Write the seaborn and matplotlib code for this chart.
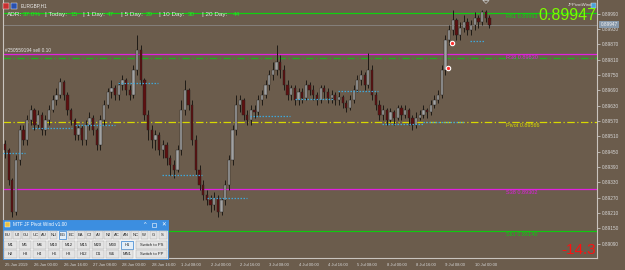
import numpy as np
import pandas as pd
import matplotlib
matplotlib.use("Agg")
import matplotlib.pyplot as plt
from matplotlib.patches import Rectangle
import matplotlib.transforms as mtransforms
import seaborn as sns

# ---------------- data ----------------
symbol = "EURGBP,H1"
first_open = 0.89480
closes = [0.89457, 0.89339, 0.89214, 0.89417, 0.89535, 0.89496, 0.89574, 0.89613, 0.89554, 0.89593,
          0.89535, 0.89574, 0.89613, 0.89652, 0.89672, 0.89722, 0.89672, 0.89613, 0.89574, 0.89515,
          0.89543, 0.89496, 0.89554, 0.89582, 0.89535, 0.89476, 0.89574, 0.89632, 0.89683, 0.89699,
          0.89672, 0.89711, 0.89730, 0.89691, 0.89672, 0.89769, 0.89848, 0.89730, 0.89593, 0.89535,
          0.89496, 0.89515, 0.89457, 0.89476, 0.89425, 0.89398, 0.89378, 0.89457, 0.89613, 0.89691,
          0.89632, 0.89496, 0.89378, 0.89320, 0.89281, 0.89261, 0.89241, 0.89269, 0.89214, 0.89261,
          0.89320, 0.89417, 0.89535, 0.89632, 0.89652, 0.89593, 0.89574, 0.89613, 0.89605, 0.89652,
          0.89672, 0.89711, 0.89750, 0.89769, 0.89801, 0.89769, 0.89711, 0.89672, 0.89699, 0.89652,
          0.89683, 0.89660, 0.89711, 0.89691, 0.89672, 0.89652, 0.89699, 0.89683, 0.89660, 0.89672,
          0.89652, 0.89664, 0.89640, 0.89621, 0.89652, 0.89691, 0.89730, 0.89750, 0.89711, 0.89769,
          0.89672, 0.89632, 0.89593, 0.89613, 0.89574, 0.89605, 0.89582, 0.89621, 0.89593, 0.89613,
          0.89582, 0.89554, 0.89582, 0.89593, 0.89613, 0.89605, 0.89632, 0.89652, 0.89672, 0.89769,
          0.89887, 0.89926, 0.89965, 0.89906, 0.89934, 0.89957, 0.89926, 0.89945, 0.89973, 0.89957,
          0.89996, 0.89973, 0.89947]
highs = [0.89496, 0.89464, 0.89347, 0.89437, 0.89554, 0.89554, 0.89593, 0.89632, 0.89621, 0.89613,
         0.89605, 0.89593, 0.89632, 0.89672, 0.89699, 0.89738, 0.89730, 0.89683, 0.89621, 0.89582,
         0.89554, 0.89554, 0.89574, 0.89605, 0.89593, 0.89543, 0.89593, 0.89652, 0.89699, 0.89730,
         0.89711, 0.89722, 0.89750, 0.89738, 0.89711, 0.89789, 0.89906, 0.89867, 0.89738, 0.89613,
         0.89554, 0.89535, 0.89527, 0.89496, 0.89488, 0.89437, 0.89417, 0.89476, 0.89652, 0.89730,
         0.89699, 0.89652, 0.89515, 0.89398, 0.89339, 0.89300, 0.89281, 0.89292, 0.89281, 0.89269,
         0.89339, 0.89437, 0.89554, 0.89672, 0.89672, 0.89660, 0.89613, 0.89632, 0.89632, 0.89672,
         0.89691, 0.89730, 0.89769, 0.89801, 0.89867, 0.89828, 0.89789, 0.89730, 0.89711, 0.89711,
         0.89699, 0.89699, 0.89730, 0.89722, 0.89711, 0.89683, 0.89711, 0.89711, 0.89699, 0.89691,
         0.89683, 0.89683, 0.89672, 0.89652, 0.89672, 0.89711, 0.89750, 0.89769, 0.89762, 0.89836,
         0.89789, 0.89683, 0.89652, 0.89632, 0.89621, 0.89621, 0.89613, 0.89632, 0.89632, 0.89632,
         0.89621, 0.89593, 0.89605, 0.89613, 0.89632, 0.89621, 0.89652, 0.89672, 0.89691, 0.89789,
         0.89906, 0.89945, 0.90004, 0.89973, 0.89957, 0.89984, 0.89973, 0.89965, 0.89996, 0.89984,
         0.90004, 0.90004, 0.89984]
lows = [0.89425, 0.89320, 0.89195, 0.89202, 0.89398, 0.89476, 0.89476, 0.89554, 0.89535, 0.89543,
        0.89515, 0.89515, 0.89554, 0.89605, 0.89632, 0.89660, 0.89652, 0.89593, 0.89554, 0.89496,
        0.89496, 0.89476, 0.89476, 0.89535, 0.89515, 0.89457, 0.89457, 0.89554, 0.89621, 0.89660,
        0.89652, 0.89652, 0.89691, 0.89672, 0.89652, 0.89660, 0.89750, 0.89711, 0.89574, 0.89496,
        0.89464, 0.89457, 0.89437, 0.89425, 0.89398, 0.89359, 0.89347, 0.89371, 0.89437, 0.89593,
        0.89613, 0.89476, 0.89359, 0.89300, 0.89261, 0.89241, 0.89214, 0.89222, 0.89195, 0.89202,
        0.89241, 0.89300, 0.89398, 0.89515, 0.89605, 0.89574, 0.89554, 0.89554, 0.89582, 0.89593,
        0.89632, 0.89660, 0.89691, 0.89730, 0.89750, 0.89738, 0.89691, 0.89652, 0.89652, 0.89632,
        0.89632, 0.89640, 0.89652, 0.89672, 0.89652, 0.89632, 0.89640, 0.89660, 0.89640, 0.89640,
        0.89632, 0.89632, 0.89621, 0.89605, 0.89613, 0.89640, 0.89683, 0.89711, 0.89691, 0.89699,
        0.89652, 0.89613, 0.89574, 0.89574, 0.89554, 0.89566, 0.89554, 0.89574, 0.89574, 0.89582,
        0.89554, 0.89535, 0.89543, 0.89574, 0.89582, 0.89582, 0.89593, 0.89621, 0.89640, 0.89660,
        0.89750, 0.89867, 0.89906, 0.89887, 0.89887, 0.89918, 0.89906, 0.89906, 0.89926, 0.89934,
        0.89945, 0.89957, 0.89934]

x_labels = ["25 Jun 2019", "26 Jun 00:00", "26 Jun 16:00", "27 Jun 08:00", "28 Jun 00:00",
            "28 Jun 16:00", "1 Jul 08:00", "2 Jul 00:00", "2 Jul 16:00", "3 Jul 08:00",
            "4 Jul 00:00", "4 Jul 16:00", "5 Jul 08:00", "8 Jul 00:00", "8 Jul 16:00",
            "9 Jul 08:00", "10 Jul 00:00"]
bars_per_label = 8

y_ticks = [0.89090, 0.89150, 0.89210, 0.89270, 0.89330, 0.89390, 0.89450, 0.89510,
           0.89570, 0.89630, 0.89690, 0.89750, 0.89810, 0.89870, 0.89930, 0.89990]

level_names = ["R61", "R38", "Pivot", "S38", "S61"]
level_values = [0.89993, 0.89830, 0.89566, 0.89302, 0.89140]
level_colors = ["#10D010", "#E020E0", "#D8D800", "#E020E0", "#10C810"]
level_styles = ["-", "-", (0, (6, 2, 1, 2)), "-", "-"]

order_price = 0.89816
order_text = "#250559194 sell 0.10"
bid_price = 0.89947

seg_start = [-1.4, 7.4, 19.1, 30.8, 42.8, 55.0, 66.8, 79.0, 90.7, 102.7, 113.9, 126.7]
seg_end = [5.4, 18.3, 30.0, 41.7, 53.7, 65.9, 77.7, 89.4, 101.6, 113.9, 125.3, 130.8]
seg_level = [0.89445, 0.89543, 0.89554, 0.89718, 0.89359, 0.89269, 0.89589, 0.89656,
             0.89687, 0.89558, 0.89566, 0.89883]

marker_idx = [121.8, 120.7]
marker_price = [0.89875, 0.89777]

adr_labels = ["ADR:", "| Today:", "| 1 Day:", "| 5 Day:", "| 10 Day:", "| 20 Day:"]
adr_values = ["37.0%", "15", "47", "29", "30", "44"]
daily_change = "-14.3"

row1_buttons = ["EU", "UJ", "GU", "UC", "AU", "NU", "EG", "EC", "EA", "CJ", "AJ", "NJ",
                "AC", "AN", "NC", "W", "G", "S"]
row2_buttons = ["M1", "M5", "M6", "M10", "M12", "M15", "M20", "M30", "H1"]
row3_buttons = ["H2", "H3", "H4", "H6", "H8", "H12", "D1", "W1", "MN1"]

# ---------------- style ----------------
BG = "#6B5C4C"
FG = "#D8D8D8"
sns.set_style("dark", {"axes.facecolor": BG, "figure.facecolor": BG})
plt.rcParams["font.family"] = ["Liberation Sans", "DejaVu Sans"]

fig = plt.figure(figsize=(6.25, 2.70), dpi=100)
fig.patch.set_facecolor(BG)
W, H = 625, 270
ax = fig.add_axes([3 / W, 1 - 258 / H, 594 / W, 258 / H])
ax.set_facecolor(BG)

n = len(closes)
idx = np.arange(n)
opens = [first_open] + closes[:-1]
df = pd.DataFrame({"i": idx, "open": opens, "close": closes, "high": highs, "low": lows})
df["bull"] = df["close"] >= df["open"]

# wicks
ax.vlines(df["i"], df["low"], df["high"], color="#1E1A16", lw=0.7, zorder=3)
# bodies
bottoms = np.minimum(df["open"], df["close"])
heights = np.maximum(np.abs(df["close"] - df["open"]), 0.00002)
colors = np.where(df["bull"], "#A2A2A2", "#5E1010")
ax.bar(df["i"], heights, bottom=bottoms, width=0.62, color=colors,
       edgecolor="#222020", linewidth=0.3, zorder=4)

# pivot levels
for name, val, col, ls in zip(level_names, level_values, level_colors, level_styles):
    ax.axhline(val, color=col, lw=0.9, ls=ls, zorder=2)
    ax.text(136.4, val - 0.00003, f"{name} {val:.5f}", color=col, fontsize=4,
            va="top", ha="left", zorder=6)

# order line
ax.axhline(order_price, color="#20B020", lw=0.9, ls=(0, (6, 2, 1, 2)), zorder=2)
ax.text(0.0, level_values[1] + 0.00004, order_text, color="#E8E8E8", fontsize=3.4,
        va="bottom", ha="left", zorder=6)
# bid line
ax.axhline(bid_price, color="#8F8F8F", lw=0.5, zorder=1)

# dotted segments
seg_df = pd.DataFrame({
    "x": [v for s, e in zip(seg_start, seg_end) for v in (s, e)],
    "y": [v for lv in seg_level for v in (lv, lv)],
    "seg": [k for k in range(len(seg_level)) for _ in (0, 1)],
})
sns.lineplot(data=seg_df, x="x", y="y", units="seg", estimator=None, ax=ax,
             color="#3FA6D8", lw=0.9, ls=(0, (1.2, 1.2)), zorder=5, legend=False)

# order markers
mk_df = pd.DataFrame({"i": marker_idx, "p": marker_price})
sns.scatterplot(data=mk_df, x="i", y="p", ax=ax, s=10, color="#FF3030",
                edgecolor="white", linewidth=0.8, zorder=7, legend=False)

# axes
ax.set_xlim(-0.55, 161.3)
ax.set_ylim(0.89034, 0.90043)
ax.set_xticks(np.arange(0, len(x_labels) * bars_per_label, bars_per_label))
ax.set_xticklabels(x_labels, ha="left")
ax.set_yticks(y_ticks)
ax.set_yticklabels([f"{v:.5f}" for v in y_ticks])
ax.yaxis.tick_right()
ax.tick_params(axis="y", direction="out", length=2.5, width=0.5, pad=0.8,
               labelsize=3.4, colors=FG)
ax.tick_params(axis="x", direction="out", length=2.5, width=0.5, pad=1.0,
               labelsize=3.0, colors=FG)
for lbl in ax.get_xticklabels():
    lbl.set_horizontalalignment("left")
ax.set_xlabel("")
ax.set_ylabel("")
ax.grid(False)
for side in ["right", "bottom", "left"]:
    ax.spines[side].set_visible(True)
    ax.spines[side].set_color("#C9C4BE")
    ax.spines[side].set_linewidth(0.8)
ax.spines["top"].set_visible(False)

# bid price box on the axis
trans = mtransforms.blended_transform_factory(ax.transAxes, ax.transData)
ax.text(1.006, bid_price, f"{bid_price:.5f}", transform=trans, fontsize=3.4,
        color="#F0F0F0", va="center", ha="left", clip_on=False, zorder=8,
        bbox=dict(boxstyle="square,pad=0.25", fc="#8798AA", ec="none"))

# ---------------- overlay (pixel coords) ----------------
ov = fig.add_axes([0, 0, 1, 1], zorder=10)
ov.set_xlim(0, W)
ov.set_ylim(H, 0)
ov.axis("off")
ov.patch.set_alpha(0)

# top-left symbol
ov.add_patch(Rectangle((3, 3), 6, 6, fc="#C83030", ec="white", lw=0.3))
ov.add_patch(Rectangle((11, 3), 6, 6, fc="#2850B0", ec="white", lw=0.3))
ov.text(21, 6, symbol, fontsize=3.4, color="#EEEEEE", va="center", ha="left")

# ADR line
adr_lbl_x = [7, 45, 83, 121, 159, 202]
adr_val_x = [23, 70, 107, 146, 188, 233]
for t, x in zip(adr_labels, adr_lbl_x):
    ov.text(x, 14.5, t, fontsize=4.6, color="#E6E6E6", va="center", ha="left")
for t, x in zip(adr_values, adr_val_x):
    ov.text(x, 14.5, t, fontsize=4.6, color="#22E822", va="center", ha="left")

# top-right
ov.text(568, 5.5, "JFPivotWind", fontsize=3.2, color="#E6E6E6", va="center", ha="left")
ov.add_patch(Rectangle((591, 3), 5, 5, fc="#4AA0D8", ec="#E0E0E0", lw=0.3))
ov.text(567, 15.5, f"{bid_price:.5f}", fontsize=11.5, color="#7CFC00",
        va="center", ha="center")
ov.text(579, 249.5, daily_change, fontsize=11, color="#FF1010", va="center", ha="center")
ov.plot([483, 489, 486, 483], [0.5, 0.5, 3.5, 0.5], color="#C8C8C8", lw=0.5)

# control panel
ov.add_patch(Rectangle((3, 220), 165, 39, fc="#F2F2F2", ec="#3C8CDC", lw=0.6))
ov.add_patch(Rectangle((3, 220), 165, 9.5, fc="#3C8EE0", ec="#3C8CDC", lw=0.4))
ov.add_patch(Rectangle((5, 222), 5, 5, fc="#E8C040", ec="white", lw=0.3))
ov.text(13, 224.8, "MTF JF Pivot Wind v1.00", fontsize=3.4, color="white",
        va="center", ha="left")
ov.text(145, 225, "^", fontsize=4, color="white", va="center", ha="center")
ov.add_patch(Rectangle((152, 222.7), 4, 4, fc="none", ec="white", lw=0.4))
ov.text(163.5, 224.8, "✕", fontsize=4, color="white", va="center", ha="center",
        family=["DejaVu Sans"])


def button(x, y, w, h, text, hl=False):
    fc = "#E3EEF8" if hl else "#E4E4E4"
    ec = "#2F7FD0" if hl else "#B0B0B0"
    ov.add_patch(Rectangle((x, y), w, h, fc=fc, ec=ec, lw=0.5 if hl else 0.35))
    ov.text(x + w / 2, y + h / 2 + 0.3, text, fontsize=3.0, color="#202020",
            va="center", ha="center")


for k, t in enumerate(row1_buttons):
    button(4 + 9.1 * k, 231, 7.8, 8, t, hl=(t == "EG"))
for k, t in enumerate(row2_buttons):
    button(4 + 14.6 * k, 240.5, 12.5, 8, t, hl=(t == "H1"))
button(136, 240.5, 31, 8, "Switch to PS")
for k, t in enumerate(row3_buttons):
    button(4 + 14.6 * k, 249.8, 12.5, 8, t)
button(136, 249.8, 31, 8, "Switch to PP")

fig.savefig("out.png", dpi=100, facecolor=BG)
